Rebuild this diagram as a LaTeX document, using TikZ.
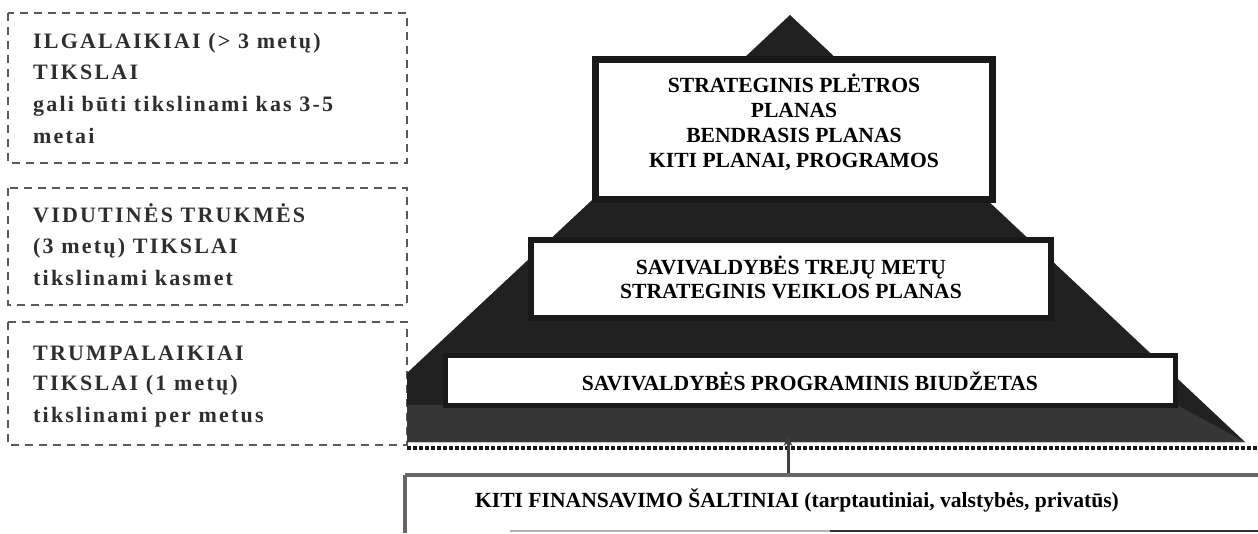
\documentclass[tikz,border=0pt]{standalone}
\usepackage{fontspec}
\setmainfont{Liberation Serif}
\newfontfamily\dfont[LetterSpace=10]{Liberation Serif}
\usetikzlibrary{arrows.meta}
\definecolor{pyrdark}{gray}{0.13}
\definecolor{pyrlow}{gray}{0.21}
\definecolor{framedark}{gray}{0.10}
\definecolor{dashgray}{gray}{0.35}
\definecolor{dashtext}{gray}{0.18}
\tikzset{
  goalbox/.style={draw=dashgray, line width=1.3pt, dash pattern=on 8pt off 6pt},
  goaltext/.style={anchor=base west, inner sep=0pt, text=dashtext, font=\dfont\bfseries\fontsize{22}{26}\selectfont},
  planframe/.style={fill=white, draw=framedark},
  plantext/.style={anchor=base, inner sep=0pt, font=\bfseries\fontsize{21.6}{24}\selectfont},
  pyr/.style={fill=pyrdark},
  pyrbase/.style={fill=pyrlow},
  dotline/.style={draw=framedark, line width=4.5pt, dash pattern=on 3.5pt off 2.5pt},
  srcline/.style={draw=black!60, line width=4pt},
  flow/.style={draw=black!75, line width=3pt, -{Stealth[length=9pt,width=9pt]}}
}
\begin{document}
\begin{tikzpicture}[x=1pt,y=-1pt]
\useasboundingbox (0,0) rectangle (1258,533);
% goal boxes
\draw[goalbox] (8,13) rectangle (407,163);
\draw[goalbox] (8,188) rectangle (407,305);
\draw[goalbox] (8,322) rectangle (407,445);
\node[goaltext] (l1a) at (33,48) {ILGALAIKIAI (> 3 metų)};
\node[goaltext] (l1b) at (33,79) {TIKSLAI};
\node[goaltext] (l1c) at (33,111) {gali būti tikslinami kas 3-5};
\node[goaltext] (l1d) at (33,143) {metai};
\node[goaltext] (l2a) at (33,222) {VIDUTINĖS TRUKMĖS};
\node[goaltext] (l2b) at (33,253) {(3 metų) TIKSLAI};
\node[goaltext] (l2c) at (33,285) {tikslinami kasmet};
\node[goaltext] (l3a) at (33,360) {TRUMPALAIKIAI};
\node[goaltext] (l3b) at (33,390) {TIKSLAI (1 metų)};
\node[goaltext] (l3c) at (33,422) {tikslinami per metus};
% pyramid
\fill[pyr] (790,15) -- (1245,442) -- (407,442) -- (407,373) -- cycle;
\fill[pyrbase] (407,405) -- (1177,405) -- (1245,442) -- (407,442) -- cycle;
% plan boxes
\draw[planframe, line width=7pt] (595.5,59.5) rectangle (992.5,199);
\draw[planframe, line width=6pt] (531,240) rectangle (1051,318);
\draw[planframe, line width=5pt] (445.5,355.5) rectangle (1175.5,405);
\node[plantext] (t1a) at (794,92) {STRATEGINIS PLĖTROS};
\node[plantext] (t1b) at (794,117) {PLANAS};
\node[plantext] (t1c) at (794,142) {BENDRASIS PLANAS};
\node[plantext] (t1d) at (794,167) {KITI PLANAI, PROGRAMOS};
\node[plantext] (t2a) at (791,274) {SAVIVALDYBĖS TREJŲ METŲ};
\node[plantext] (t2b) at (791,298) {STRATEGINIS VEIKLOS PLANAS};
\node[plantext] (t3) at (810,390) {SAVIVALDYBĖS PROGRAMINIS BIUDŽETAS};
% separator
\coordinate (dl) at (407,448);
\coordinate (dr) at (1258,448);
\draw[dotline] (dl) -- (dr);
% funding box
\coordinate (fl) at (405,475);
\coordinate (fr) at (1258,475);
\coordinate (fb) at (405,533);
\draw[srcline] (fl) -- (fr);
\draw[srcline] (fl) -- (fb);
\coordinate (bl) at (510,531);
\coordinate (bm) at (830,531);
\coordinate (br) at (1258,531);
\draw[draw=black!30, line width=1.5pt] (bl) -- (bm);
\draw[draw=black!80, line width=2.5pt] (bm) -- (br);
\node[plantext] (t4) at (797,507) {KITI FINANSAVIMO ŠALTINIAI (tarptautiniai, valstybės, privatūs)};
\coordinate (src) at (788,473);
\coordinate (dst) at (788,437);
\draw[flow] (src) -- (dst);
\end{tikzpicture}
\end{document}
